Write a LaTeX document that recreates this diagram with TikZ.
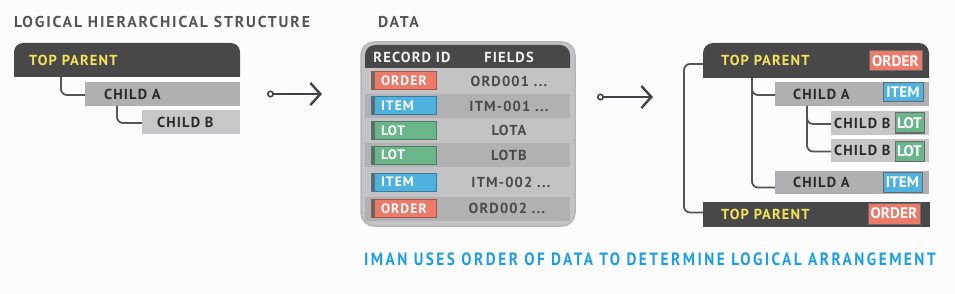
\documentclass[tikz,border=0pt]{standalone}
\usepackage{fontspec}
\setmainfont{PT Sans}
\newfontfamily\capfont{PT Sans}[FakeStretch=0.86]
\usetikzlibrary{arrows.meta}
\definecolor{bgc}{HTML}{FCFCFC}
\definecolor{darkbox}{HTML}{484848}
\definecolor{ylw}{HTML}{F4E35A}
\definecolor{chA}{HTML}{B0B0B2}
\definecolor{chB}{HTML}{C7C7C9}
\definecolor{txt}{HTML}{2B2B2B}
\definecolor{ttl}{HTML}{555555}
\definecolor{lnk}{HTML}{555555}
\definecolor{arr}{HTML}{404448}
\definecolor{pnl}{HTML}{C3C3C5}
\definecolor{pnlb}{HTML}{B6B6B8}
\definecolor{band}{HTML}{B1B1B3}
\definecolor{ordc}{HTML}{EB7A69}
\definecolor{itmc}{HTML}{4FB2DE}
\definecolor{lotc}{HTML}{6AB68A}
\definecolor{capc}{HTML}{1C9EE2}
\definecolor{ftxt}{HTML}{4A4A4A}
\definecolor{strip}{HTML}{5F6B66}
\definecolor{bdg}{HTML}{6B6B6B}
\definecolor{hdtxt}{HTML}{F2F2F2}
\begin{document}
\begin{tikzpicture}[x=1pt,y=-1pt,
  every node/.style={inner sep=0pt, outer sep=0pt},
  bx/.style 2 args={anchor=north west, minimum width=#1, minimum height=#2},
  hfont/.style={font=\bfseries\fontsize{14.5}{16}\selectfont\addfontfeatures{LetterSpace=8}},
  lbl/.style={hfont, text=txt, anchor=west},
  tplbl/.style={hfont, text=ylw, anchor=west},
  ttlstyle/.style={anchor=west, text=ttl, font=\bfseries\fontsize{15.7}{18}\selectfont\addfontfeatures{LetterSpace=12}},
  conn/.style={draw=lnk, line width=1.8pt, rounded corners=6pt},
  flow/.style={draw=arr, line width=2.4pt, {Circle[open,length=7pt,width=7pt,fill=bgc,line width=1.6pt]}-{Straight Barb[length=10pt,width=22pt]}},
  dbadge/.style={anchor=north west, minimum width=65pt, minimum height=18pt, text width=65pt, align=left, fill=#1, draw=#1!70!black, line width=1pt, text=white, font=\bfseries\fontsize{13.6}{15}\selectfont\addfontfeatures{LetterSpace=8}, path picture={\fill[strip] (path picture bounding box.north west) rectangle ([xshift=4pt]path picture bounding box.south west);}},
  rbadge/.style={anchor=north west, fill=#1, draw=bdg, line width=1pt, text=white, font=\bfseries\fontsize{15.3}{16}\selectfont},
  ftext/.style={text=ftxt, hfont}
]
\fill[bgc] (0,0) rectangle (955,294);
\useasboundingbox (0,0) rectangle (955,294);

% ---------- titles
\node[ttlstyle] (t1) at (14,22.5) {LOGICAL HIERARCHICAL STRUCTURE};
\node[ttlstyle] (t2) at (378,22.5) {DATA};

% ---------- left hierarchy
\fill[darkbox] (14,77) -- (14,52) arc[start angle=180,end angle=90,radius=9pt] -- (231,43) arc[start angle=90,end angle=0,radius=9pt] -- (240,77) -- cycle;
\node[bx={226pt}{34pt}] (tp1) at (14,43) {};
\node[tplbl] (tp1t) at ([xshift=15pt]tp1.west) {TOP PARENT};
\node[bx={155pt}{24pt}, fill=chA] (ca1) at (85,82) {};
\node[lbl] (ca1t) at ([xshift=19pt]ca1.west) {CHILD A};
\node[bx={98pt}{24pt}, fill=chB] (cb1) at (142,110) {};
\node[lbl] (cb1t) at ([xshift=15pt]cb1.west) {CHILD B};
\draw[conn] ([xshift=47pt]tp1.south west) |- ([yshift=-1pt]ca1.west);
\draw[conn] ([xshift=32pt]ca1.south west) |- ([yshift=-1pt]cb1.west);

% ---------- arrows
\coordinate (a1s) at (267,94);
\coordinate (a1e) at (322,94);
\draw[flow] (a1s) -- (a1e);
\coordinate (a2s) at (597,97);
\coordinate (a2e) at (653,97);
\draw[flow] (a2s) -- (a2e);

% ---------- data panel
\node[bx={214pt}{184pt}, fill=pnl, draw=pnlb, line width=1.5pt, rounded corners=13pt] (pnl) at (361,42) {};
\fill[darkbox] (365,68) -- (365,55) arc[start angle=180,end angle=90,radius=10pt] -- (560,45) arc[start angle=90,end angle=0,radius=10pt] -- (570,68) -- cycle;
\node[hfont, text=hdtxt] (h1) at (412,57) {RECORD ID};
\node[hfont, text=hdtxt] (h2) at (509,57) {FIELDS};
\fill[band] (365,94) rectangle (570,118);
\fill[band] (365,143) rectangle (570,167);
\fill[band] (365,197) rectangle (570,221);

\node[dbadge=ordc] (d1) at (371,72) {\hspace*{10pt}ORDER};
\node[dbadge=itmc] (d2) at (371,97) {\hspace*{10pt}ITEM};
\node[dbadge=lotc] (d3) at (371,121.5) {\hspace*{10pt}LOT};
\node[dbadge=lotc] (d4) at (371,146) {\hspace*{10pt}LOT};
\node[dbadge=itmc] (d5) at (371,173) {\hspace*{10pt}ITEM};
\node[dbadge=ordc] (d6) at (371,199.5) {\hspace*{10pt}ORDER};
\node[ftext] (f1) at (509,81) {ORD001 ...};
\node[ftext] (f2) at (509,106) {ITM-001 ...};
\node[ftext] (f3) at (509,130.5) {LOTA};
\node[ftext] (f4) at (509,155) {LOTB};
\node[ftext] (f5) at (511,182) {ITM-002 ...};
\node[ftext] (f6) at (507,208.5) {ORD002 ...};

% ---------- right hierarchy
\fill[darkbox] (703,78) -- (703,53) arc[start angle=180,end angle=90,radius=10pt] -- (919,43) arc[start angle=90,end angle=0,radius=10pt] -- (929,78) -- cycle;
\node[bx={226pt}{35pt}] (tp2) at (703,43) {};
\node[tplbl] (tp2t) at ([xshift=18pt]tp2.west) {TOP PARENT};
\node[rbadge=ordc, minimum width=53pt, minimum height=20pt] (ob1) at (869,51) {ORDER};

\node[bx={154pt}{24pt}, fill=chA] (ca2) at (775,82) {};
\node[lbl] (ca2t) at ([xshift=18pt]ca2.west) {CHILD A};
\node[rbadge=itmc, minimum width=40pt, minimum height=19pt] (ib1) at (883,83) {ITEM};

\node[bx={98pt}{24pt}, fill=chB] (cb2) at (831,111) {};
\node[lbl] (cb2t) at ([xshift=3pt]cb2.west) {CHILD B};
\node[rbadge=lotc, minimum width=29pt, minimum height=20pt] (lb1) at (895,113) {LOT};

\node[bx={98pt}{23pt}, fill=chB] (cb3) at (831,139) {};
\node[lbl] (cb3t) at ([xshift=3pt]cb3.west) {CHILD B};
\node[rbadge=lotc, minimum width=29pt, minimum height=20pt] (lb2) at (895,141) {LOT};

\node[bx={154pt}{23pt}, fill=chA] (ca3) at (775,171) {};
\node[lbl] (ca3t) at ([xshift=18pt]ca3.west) {CHILD A};
\node[rbadge=itmc, minimum width=39pt, minimum height=20pt] (ib2) at (883,172) {ITEM};

\node[bx={227pt}{25pt}, fill=darkbox] (tp3) at (703,202) {};
\node[tplbl] (tp3t) at ([xshift=18pt]tp3.west) {TOP PARENT};
\node[rbadge=ordc, minimum width=52pt, minimum height=21pt] (ob2) at (868,203) {ORDER};

\draw[conn] ([yshift=-3.5pt]tp2.west) -- ++(-19,0) |- ([yshift=2pt]tp3.west);
\draw[conn] ([xshift=49pt]tp2.south west) |- ([yshift=-1pt]ca2.west);
\draw[conn] ([xshift=49pt]tp2.south west) |- ([yshift=-5pt]ca3.west);
\draw[conn] ([xshift=32pt]ca2.south west) |- ([yshift=-1pt]cb2.west);
\draw[conn] ([xshift=32pt]ca2.south west) |- ([yshift=-1pt]cb3.west);

% ---------- caption
\node[anchor=west, text=capc, font=\capfont\bfseries\fontsize{17.8}{20}\selectfont\addfontfeatures{LetterSpace=14}] (capt) at (364,259.5) {IMAN USES ORDER OF DATA TO DETERMINE LOGICAL ARRANGEMENT};
\end{tikzpicture}
\end{document}
